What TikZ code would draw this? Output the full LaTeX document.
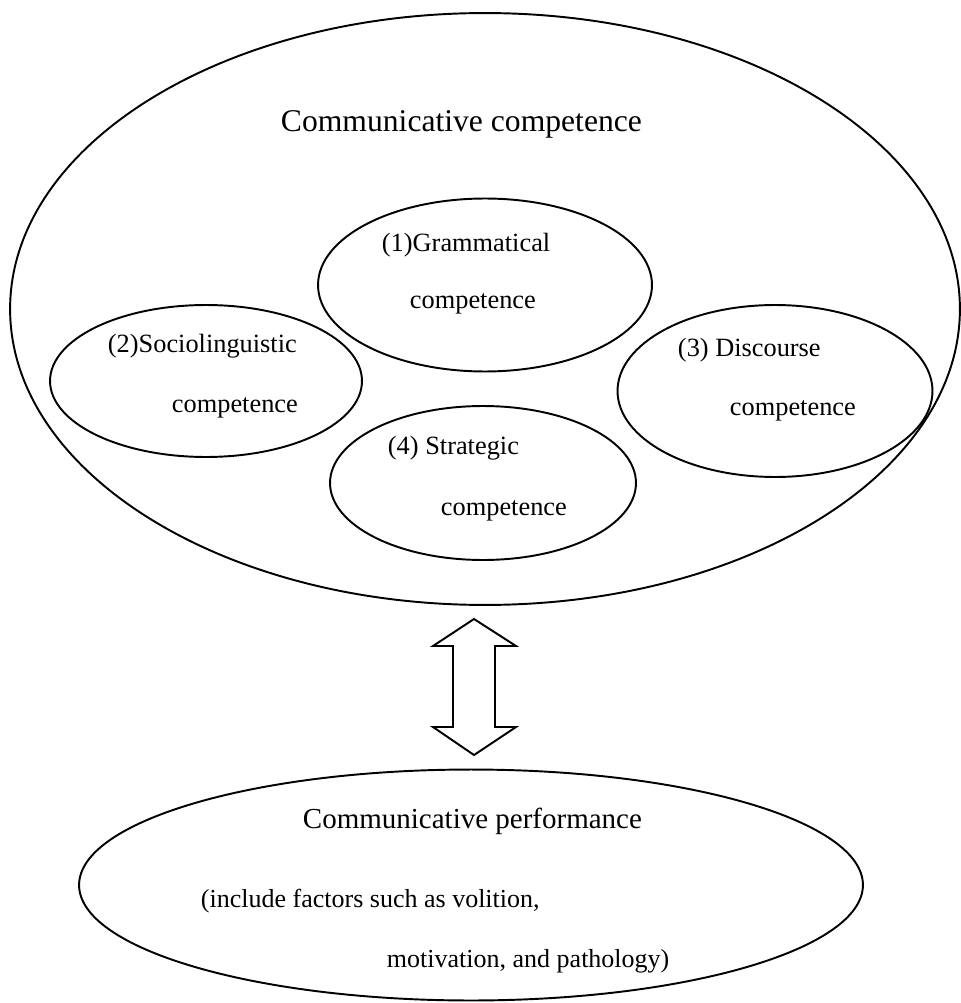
\documentclass[tikz,border=0pt]{standalone}
\usepackage{fontspec}
\setmainfont{Liberation Serif}
\usetikzlibrary{shapes.geometric}
\tikzset{
	oval/.style={draw,ellipse,inner sep=0pt,line width=1.1pt},
	txt/.style={anchor=base west,inner sep=0pt,font=\fontsize{15}{18}\selectfont}
}
\begin{document}
\begin{tikzpicture}[x=0.02cm,y=-0.02cm,line width=1.1pt]
	\useasboundingbox (0,0) rectangle (960,1003);
	\node[oval,minimum width=19cm,minimum height=11.84cm] (cc) at (485,309) {};
	\node[oval,minimum width=6.68cm,minimum height=3.46cm] (gram) at (485,285) {};
	\node[oval,minimum width=6.24cm,minimum height=3.04cm] (socio) at (206,381) {};
	\node[oval,minimum width=6.3cm,minimum height=3.44cm] (disc) at (775,391) {};
	\node[oval,minimum width=6.12cm,minimum height=3.08cm] (strat) at (483,483) {};
	\node[oval,minimum width=15.68cm,minimum height=4.62cm] (perf) at (471,885) {};
	\node[txt,font=\fontsize{18}{22}\selectfont] (cctitle) at (280,132) {Communicative competence};
	\node[txt] (gram1) at (381,252) {(1)Grammatical};
	\node[txt] (gram2) at (409,309) {competence};
	\node[txt] (socio1) at (107,352) {(2)Sociolinguistic};
	\node[txt] (socio2) at (171,412) {competence};
	\node[txt] (disc1) at (677,356) {(3) Discourse};
	\node[txt] (disc2) at (729,415) {competence};
	\node[txt] (strat1) at (387,454) {(4) Strategic};
	\node[txt] (strat2) at (440,515) {competence};
	\node[txt,font=\fontsize{16.5}{20}\selectfont] (perftitle) at (302,828) {Communicative performance};
	\node[txt,font=\fontsize{14.8}{18}\selectfont] (perf1) at (200,907) {(include factors such as volition,};
	\node[txt,font=\fontsize{14.8}{18}\selectfont] (perf2) at (386,967) {motivation, and pathology)};
	\coordinate (atop) at (474,619);
	\coordinate (abot) at (474,755);
	\draw[line join=miter] (atop) -- ++(42,27) -- ++(-21,0) -- ++(0,81) -- ++(21,0) -- (abot)
		-- ++(-41,-28) -- ++(20,0) -- ++(0,-81) -- ++(-20,0) -- cycle;
\end{tikzpicture}
\end{document}
